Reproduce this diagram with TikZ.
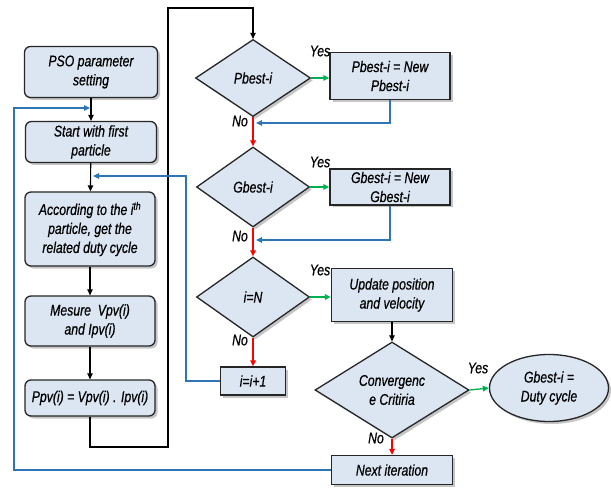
\documentclass[tikz,border=0pt]{standalone}
\usepackage{fontspec}
\setmainfont{Liberation Sans}[FakeStretch=0.79,FakeBold=0.6]
\usetikzlibrary{shapes.geometric,arrows.meta,shadows}
\definecolor{boxfill}{HTML}{DCE6F2}
\definecolor{lblue}{HTML}{2E75B6}
\definecolor{lgreen}{HTML}{00B050}
\definecolor{lred}{HTML}{FF0000}
\begin{document}
\begin{tikzpicture}[x=1pt,y=-1pt,
  font=\fontsize{15.5}{19}\selectfont\itshape,
  shad/.style={drop shadow={shadow xshift=2.5pt,shadow yshift=-2.5pt,fill=black!45}},
  rbox/.style={draw=black!85,line width=1.3pt,fill=boxfill,rounded corners=6pt,shad,align=center,inner sep=1pt},
  sbox/.style={draw=black!85,line width=1.3pt,fill=boxfill,shad,align=center,inner sep=1pt},
  dia/.style={diamond,draw=black!85,line width=1.3pt,fill=boxfill,shad,align=center,inner sep=0pt},
  ell/.style={ellipse,draw=black!85,line width=1.3pt,fill=boxfill,shad,align=center,inner sep=0pt},
  tip/.style={-{Triangle[length=6pt,width=5.5pt]}},
  bk/.style={tip,line width=1.1pt,black},
  bl/.style={tip,line width=1.3pt,lblue},
  gr/.style={tip,line width=1.3pt,lgreen},
  rd/.style={tip,line width=1.3pt,lred},
  lbl/.style={inner sep=0pt}
]
\useasboundingbox (0,0) rectangle (611,492);
% left column
\node[rbox,minimum width=133pt,minimum height=51pt] (pso) at (91,72) {PSO parameter\\setting};
\node[rbox,minimum width=131pt,minimum height=41pt] (start) at (91,142) {Start with first\\particle};
\node[rbox,minimum width=130pt,minimum height=74pt] (acc) at (90,229) {According to the i\textsuperscript{th}\\particle, get the\\related duty cycle};
\node[rbox,minimum width=130pt,minimum height=50pt] (mes) at (90,321) {Mesure \ Vpv(i)\\and Ipv(i)};
\node[rbox,minimum width=130pt,minimum height=36pt] (ppv) at (90,398) {Ppv(i) = Vpv(i) . Ipv(i)};
% right part
\node[dia,minimum width=115pt,minimum height=77pt] (pb) at (253,78) {Pbest-i};
\node[sbox,minimum width=120pt,minimum height=47pt] (pbn) at (390,76) {Pbest-i = New\\Pbest-i};
\node[dia,minimum width=113pt,minimum height=80pt] (gb) at (253,187) {Gbest-i};
\node[sbox,minimum width=120pt,minimum height=36pt] (gbn) at (390,187) {Gbest-i = New\\Gbest-i};
\node[dia,minimum width=113pt,minimum height=80pt] (ieq) at (253,297) {i=N};
\node[sbox,minimum width=121pt,minimum height=53pt] (upd) at (392,295) {Update position\\and velocity};
\node[sbox,minimum width=65pt,minimum height=28pt] (inc) at (253,381) {i=i+1};
\node[dia,minimum width=154pt,minimum height=77pt] (conv) at (392,390) {Convergenc\\e Critiria};
\node[ell,minimum width=119pt,minimum height=67pt] (res) at (549,388) {Gbest-i =\\Duty cycle};
\node[sbox,minimum width=121pt,minimum height=29pt] (nxt) at (392,470) {Next iteration};
% labels
\node[lbl] (y1) at (320,51) {Yes};
\node[lbl] (y2) at (320,162) {Yes};
\node[lbl] (y3) at (320,270) {Yes};
\node[lbl] (y4) at (478,368) {Yes};
\node[lbl] (n1) at (240,121) {No};
\node[lbl] (n2) at (240,236) {No};
\node[lbl] (n3) at (240,340) {No};
\node[lbl] (n4) at (376,438) {No};
% coordinates
\coordinate (c1) at (168,447);
\coordinate (c2) at (168,8);
\coordinate (j1) at (256,123);
\coordinate (j2) at (256,240);
\coordinate (k1) at (186,176);
\coordinate (k2) at (93,176);
\coordinate (m1) at (14,108);
\coordinate (m2) at (90,108);
% black arrows
\draw[bk] (pso) -- (start);
\draw[bk] (start) -- (acc);
\draw[bk] (acc) -- (mes);
\draw[bk] (mes) -- (ppv);
\draw[bk] (ppv.south) |- (c1) -- (c2) -| (pb.north);
\draw[bk] (upd) -- (conv);
% green
\draw[gr] (pb.east) -- (pbn.west |- pb.east);
\draw[gr] (gb.east) -- (gbn.west |- gb.east);
\draw[gr] (ieq.east) -- (upd.west |- ieq.east);
\draw[gr] (conv.east) -- (res.west);
% red
\draw[rd] (pb.south) -- (gb.north);
\draw[rd] (gb.south) -- (ieq.north);
\draw[rd] (ieq.south) -- (inc.north);
\draw[rd] (conv.south) -- (nxt.north);
% blue
\draw[bl] (pbn.south) |- (j1);
\draw[bl] (gbn.south) |- (j2);
\draw[bl] (inc.west) -| (k1) -- (k2);
\draw[bl] (nxt.west) -| (m1) -- (m2);
\end{tikzpicture}
\end{document}
